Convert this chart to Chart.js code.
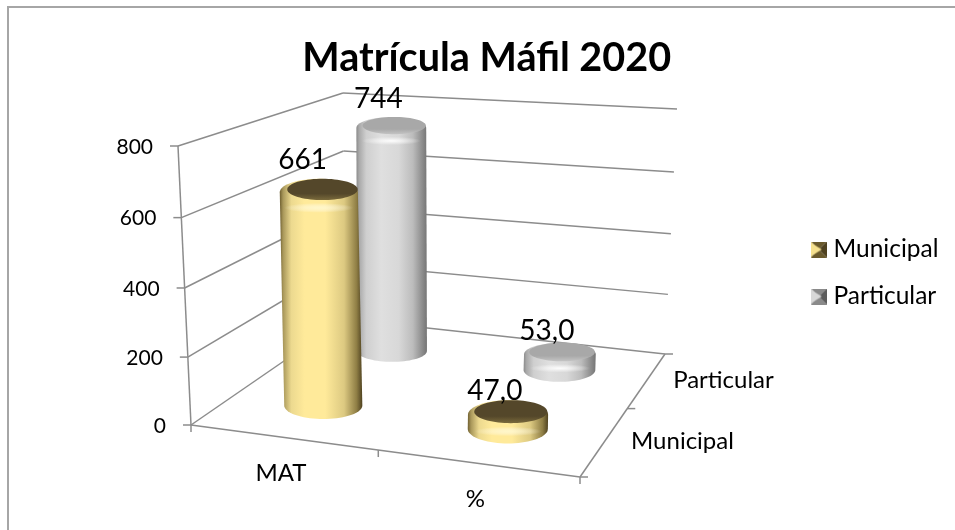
<!DOCTYPE html>
<html>
<head>
<meta charset="utf-8">
<title>Matrícula Máfil 2020</title>
<script src="https://cdn.jsdelivr.net/npm/chart.js@4"></script>
<style>
    html, body { margin: 0; padding: 0; background: #fff; }
    canvas { display: block; }
</style>
</head>
<body>
<canvas id="myChart" width="955" height="530"></canvas>
<script>
var categories = ['MAT', '%'];
var seriesNames = ['Municipal', 'Particular'];
var municipalValues = [661, 47];
var particularValues = [744, 53];
var municipalLabels = ['661', '47,0'];
var particularLabels = ['744', '53,0'];
var yTicks = [0, 200, 400, 600, 800];

// floor of the 3d box on screen: front-left, front-right, back-right, back-left
var floorQuad = [[191, 425], [580, 477], [665, 354], [345, 319]];
// how far the full axis height rises at those same corners
var wallRise = [[-13, -279], [8, -240], [12, -245], [-2, -226]];
var depthRadius = 0.105;
var heightPerspective = 0.965;

var gold = {
    stops: [[0, '#6f5f30'], [0.04, '#a8975a'], [0.14, '#ecd98f'], [0.3, '#ffea9a'], [0.55, '#ffea9a'], [0.78, '#dcc981'], [0.93, '#8f7e45'], [1, '#4f4220']],
    cap: '#54472a', capLow: '#7a6a3c', glow: 'rgba(255,248,205,0.9)', boxLight: '#f5e08e', boxDark: '#4f4220', boxTop: '#6a5a2c'
};
var silver = {
    stops: [[0, '#8a8a8a'], [0.04, '#a9a9a9'], [0.14, '#cfcfcf'], [0.35, '#dfdfdf'], [0.6, '#d8d8d8'], [0.8, '#bcbcbc'], [0.93, '#8e8e8e'], [1, '#757575']],
    cap: '#a8a8a8', capLow: '#c4c4c4', glow: 'rgba(255,255,255,0.95)', boxLight: '#d8d8d8', boxDark: '#5c5c5c', boxTop: '#8a8a8a'
};
var gridColor = '#8c8c8c';
var fontName = 'Lato, sans-serif';

// unit square -> quad, perspective correct
function quadMapper(q) {
    var x0 = q[0][0], y0 = q[0][1], x1 = q[1][0], y1 = q[1][1];
    var x2 = q[2][0], y2 = q[2][1], x3 = q[3][0], y3 = q[3][1];
    var sx = x0 - x1 + x2 - x3, sy = y0 - y1 + y2 - y3;
    var dx1 = x1 - x2, dx2 = x3 - x2, dy1 = y1 - y2, dy2 = y3 - y2;
    var den = dx1 * dy2 - dx2 * dy1;
    var g = (sx * dy2 - dx2 * sy) / den;
    var h = (dx1 * sy - sx * dy1) / den;
    var a = x1 - x0 + g * x1, b = x3 - x0 + h * x3;
    var d = y1 - y0 + g * y1, e = y3 - y0 + h * y3;
    return function(u, w) {
        var k = g * u + h * w + 1;
        return [(a * u + b * w + x0) / k, (d * u + e * w + y0) / k];
    };
}
var floorAt = quadMapper(floorQuad);

function riseAt(u, w, n) {
    return wallRise[0][n] * (1 - u) * (1 - w) + wallRise[1][n] * u * (1 - w) + wallRise[2][n] * u * w + wallRise[3][n] * (1 - u) * w;
}

function lift(u, w, f) {
    var h = f * heightPerspective / (1 + (heightPerspective - 1) * f);
    return [riseAt(u, w, 0) * h, riseAt(u, w, 1) * h];
}

function project(u, w, f) {
    var p = floorAt(u, w), l = lift(u, w, f);
    return [p[0] + l[0], p[1] + l[1]];
}

function makeBox(c) {
    // small bevelled square for the legend
    var cv = document.createElement('canvas');
    cv.width = 16;
    cv.height = 16;
    var g = cv.getContext('2d');
    function tri(col, a, b) {
        g.fillStyle = col;
        g.beginPath();
        g.moveTo(a[0], a[1]);
        g.lineTo(b[0], b[1]);
        g.lineTo(8, 8);
        g.fill();
    }
    tri(c.boxTop, [0, 0], [16, 0]);
    tri(c.boxLight, [0, 0], [0, 16]);
    tri(c.boxTop, [0, 16], [16, 16]);
    tri(c.boxDark, [16, 0], [16, 16]);
    g.fillStyle = c.boxLight;
    g.beginPath();
    g.moveTo(3, 3);
    g.lineTo(11, 8);
    g.lineTo(3, 13);
    g.fill();
    return cv;
}

// level ellipse with the same extents as the circle on the floor, moved up as one piece
function ellipsePoints(u, w, ru, rw, up) {
    var minX = Infinity, maxX = -Infinity, minY = Infinity, maxY = -Infinity;
    for (var n = 0; n < 72; n++) {
        var s = n / 72 * Math.PI * 2;
        var q = floorAt(u + Math.cos(s) * ru, w + Math.sin(s) * rw);
        minX = Math.min(minX, q[0]);
        maxX = Math.max(maxX, q[0]);
        minY = Math.min(minY, q[1]);
        maxY = Math.max(maxY, q[1]);
    }
    var pts = [];
    for (var i = 0; i < 72; i++) {
        var t = i / 72 * Math.PI * 2;
        pts.push([
            (minX + maxX) / 2 + Math.cos(t) * (maxX - minX) / 2 + up[0],
            (minY + maxY) / 2 - Math.sin(t) * (maxY - minY) / 2 + up[1]
        ]);
    }
    return pts;
}

function tracePoly(ctx, pts) {
    ctx.beginPath();
    pts.forEach(function(p, i) {
        if (i === 0) ctx.moveTo(p[0], p[1]); else ctx.lineTo(p[0], p[1]);
    });
    ctx.closePath();
}

function extent(pts) {
    var lo = 0, hi = 0;
    pts.forEach(function(p, i) {
        if (p[0] < pts[lo][0]) lo = i;
        if (p[0] > pts[hi][0]) hi = i;
    });
    return { lo: lo, hi: hi };
}

function drawCylinder(ctx, u, w, f, ru, c) {
    var up = lift(u, w, f);
    var base = ellipsePoints(u, w, ru, depthRadius, [0, 0]);
    var top = ellipsePoints(u, w, ru, depthRadius, up);
    var bx = extent(base), tx = extent(top);

    // side: front half of the base, then back half of the top
    var side = [];
    for (var i = bx.lo; ; i = (i + 1) % base.length) {
        side.push(base[i]);
        if (i === bx.hi) break;
    }
    for (var j = tx.hi; ; j = (j + 1) % top.length) {
        side.push(top[j]);
        if (j === tx.lo) break;
    }
    var left = Math.min(base[bx.lo][0], top[tx.lo][0]);
    var right = Math.max(base[bx.hi][0], top[tx.hi][0]);
    var grad = ctx.createLinearGradient(left, 0, right, 0);
    c.stops.forEach(function(s) { grad.addColorStop(s[0], s[1]); });
    tracePoly(ctx, side);
    ctx.fillStyle = grad;
    ctx.fill();

    // glow under the cap
    var frontY = Math.max.apply(null, top.map(function(p) { return p[1]; }));
    var midX = (top[tx.lo][0] + top[tx.hi][0]) / 2;
    ctx.save();
    tracePoly(ctx, side);
    ctx.clip();
    ctx.translate(midX, frontY + 2);
    ctx.scale(1, 0.14);
    var glow = ctx.createRadialGradient(0, 0, 0, 0, 0, (right - left) * 0.42);
    glow.addColorStop(0, c.glow);
    glow.addColorStop(1, 'rgba(255,255,255,0)');
    ctx.fillStyle = glow;
    ctx.fillRect(-200, -200, 400, 400);
    ctx.restore();

    // dark cap, flush with the back of the top edge
    var cap = ellipsePoints(u, w + depthRadius * 0.22, ru * 0.93, depthRadius * 0.78, up);
    var capY = cap.map(function(p) { return p[1]; });
    var capGrad = ctx.createLinearGradient(0, Math.min.apply(null, capY), 0, Math.max.apply(null, capY));
    capGrad.addColorStop(0, c.cap);
    capGrad.addColorStop(0.7, c.cap);
    capGrad.addColorStop(1, c.capLow);
    tracePoly(ctx, cap);
    ctx.fillStyle = capGrad;
    ctx.fill();
}

var box3dPlugin = {
    id: 'box3d',
    beforeDatasetsDraw: function(chart) {
        var ctx = chart.ctx;
        var y = chart.scales.y, x = chart.scales.x, depth = chart.scales.depth;
        var frac = function(v) { return (y.getPixelForValue(0) - y.getPixelForValue(v)) / (y.getPixelForValue(0) - y.top); };
        var ux = function(i) { return (x.getPixelForValue(i) - x.left) / x.width; };
        var wz = function(i) { return (depth.getPixelForValue(i) - depth.left) / depth.width; };

        ctx.save();
        ctx.strokeStyle = gridColor;
        ctx.lineWidth = 1.5;
        function seg(a, b) {
            ctx.beginPath();
            ctx.moveTo(a[0], a[1]);
            ctx.lineTo(b[0], b[1]);
            ctx.stroke();
        }
        // wall grid lines and value ticks
        ctx.fillStyle = '#000';
        ctx.font = '21px ' + fontName;
        ctx.textAlign = 'right';
        ctx.textBaseline = 'middle';
        yTicks.forEach(function(t) {
            var f = frac(t);
            var a = project(0, 0, f), b = project(0, 1, f), c = project(1, 1, f);
            seg([a[0] - 8, a[1]], a);
            seg(a, b);
            seg(b, c);
            ctx.fillText(String(t), a[0] - 25, a[1] + 1);
        });
        // vertical axis, floor edges
        seg(project(0, 0, 0), project(0, 0, 1));
        seg(project(0, 0, 0), project(1, 0, 0));
        seg(project(1, 0, 0), project(1, 1, 0));

        // category ticks and labels along the front edge
        ctx.font = '24px ' + fontName;
        ctx.textAlign = 'center';
        for (var i = 0; i <= categories.length; i++) {
            var p = project(ux(i - 0.5), 0, 0);
            seg(p, [p[0], p[1] + 7]);
        }
        categories.forEach(function(name, i) {
            var p = project(ux(i), 0, 0);
            ctx.fillText(name, p[0] - 2, p[1] + 36);
        });
        // series ticks and labels along the right edge
        ctx.textAlign = 'left';
        for (var k = 0; k <= seriesNames.length; k++) {
            var q = project(1, wz(k - 0.5), 0);
            seg(q, [q[0] + 8, q[1]]);
        }
        seriesNames.forEach(function(name, i) {
            var q = project(1, wz(i), 0);
            ctx.fillText(name, q[0] + 26, q[1]);
        });
        ctx.restore();
    },
    beforeDatasetDraw: function(chart, args) {
        // the bars are replaced by cylinders placed from their own scale values
        var ctx = chart.ctx;
        var y = chart.scales.y, x = chart.scales.x, depth = chart.scales.depth;
        var meta = chart.getDatasetMeta(args.index);
        var w = (depth.getPixelForValue(args.index) - depth.left) / depth.width;
        ctx.save();
        meta.data.forEach(function(bar) {
            var u = (bar.x - x.left) / x.width;
            var f = (bar.base - bar.y) / (y.getPixelForValue(0) - y.top);
            var ru = bar.width / 2 / x.width;
            drawCylinder(ctx, u, w, f, ru, chart.data.datasets[args.index].colors);
        });
        ctx.restore();
        return false;
    },
    afterDatasetsDraw: function(chart) {
        var ctx = chart.ctx;
        var y = chart.scales.y, x = chart.scales.x, depth = chart.scales.depth;
        ctx.save();
        ctx.fillStyle = '#000';
        ctx.font = '28px ' + fontName;
        ctx.textAlign = 'center';
        ctx.textBaseline = 'middle';
        chart.data.datasets.forEach(function(ds, d) {
            var w = (depth.getPixelForValue(d) - depth.left) / depth.width;
            chart.getDatasetMeta(d).data.forEach(function(bar, i) {
                var u = (bar.x - x.left) / x.width;
                var f = (bar.base - bar.y) / (y.getPixelForValue(0) - y.top);
                var p = project(u, w, f);
                ctx.fillText(ds.valueLabels[i], p[0] - 13 - f * (4 - 4 * d), p[1] - 23 - f * (11 - 5 * d));
            });
        });
        ctx.restore();
    }
};

var framePlugin = {
    id: 'frame',
    beforeDraw: function(chart) {
        var ctx = chart.ctx;
        ctx.save();
        ctx.fillStyle = '#fff';
        ctx.fillRect(0, 0, chart.width, chart.height);
        ctx.strokeStyle = '#a6a6a6';
        ctx.lineWidth = 2;
        ctx.beginPath();
        ctx.moveTo(8, 530);
        ctx.lineTo(8, 7);
        ctx.lineTo(955, 7);
        ctx.stroke();
        ctx.restore();
    }
};

var ctx = document.getElementById('myChart').getContext('2d');
new Chart(ctx, {
    type: 'bar',
    data: {
        labels: categories,
        datasets: [{
            label: seriesNames[0],
            data: municipalValues,
            valueLabels: municipalLabels,
            colors: gold,
            grouped: false,
            barPercentage: 0.4,
            categoryPercentage: 1
        }, {
            label: seriesNames[1],
            data: particularValues,
            valueLabels: particularLabels,
            colors: silver,
            grouped: false,
            barPercentage: 0.4,
            categoryPercentage: 1
        }]
    },
    options: {
        responsive: false,
        animation: false,
        layout: { padding: { left: 25, right: 6.5, top: 20, bottom: 4 } },
        scales: {
            x: { display: false },
            y: { display: false, min: 0, max: 800 },
            depth: { type: 'category', axis: 'x', labels: seriesNames, offset: true, display: false }
        },
        plugins: {
            title: {
                display: true,
                text: 'Matrícula Máfil 2020',
                color: '#000',
                font: { family: fontName, size: 39.6, weight: 'bold' },
                padding: { top: 14, bottom: 10 }
            },
            legend: {
                position: 'right',
                labels: {
                    usePointStyle: true,
                    pointStyleWidth: 5,
                    padding: 22.5,
                    color: '#000',
                    font: { family: fontName, size: 24.5 },
                    generateLabels: function(chart) {
                        return chart.data.datasets.map(function(ds, i) {
                            return { text: ds.label, pointStyle: makeBox(ds.colors), datasetIndex: i, fontColor: '#000' };
                        });
                    }
                }
            },
            tooltip: { enabled: false }
        }
    },
    plugins: [framePlugin, box3dPlugin]
});
</script>
</body>
</html>
